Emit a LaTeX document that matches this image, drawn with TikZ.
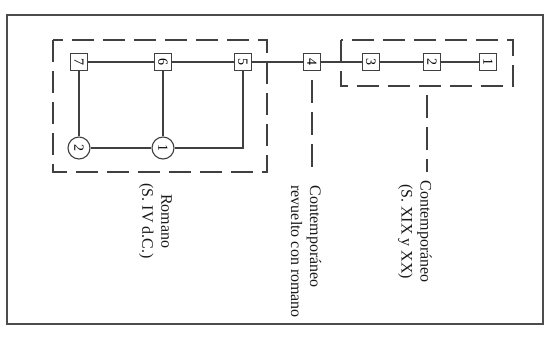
\documentclass[tikz,border=0pt]{standalone}
\usepackage{fontspec}
\setmainfont{Liberation Serif}
\usetikzlibrary{positioning}

\begin{document}
\begin{tikzpicture}[x=1pt, y=-1pt, line width=1.1pt, draw=black!75,
  unit/.style={draw=black!75, minimum size=17pt, inner sep=0pt,
    font=\fontsize{14}{14}\selectfont, rotate=-90},
  ring/.style={draw=black!75, circle, minimum size=22pt, inner sep=0pt,
    font=\fontsize{14}{14}\selectfont, rotate=-90},
  group/.style={draw=black!75, line width=1.3pt, dash pattern=on 22pt off 9pt},
  lead/.style={draw=black!75, line width=1.3pt, dash pattern=on 23pt off 9pt},
  era/.style={rotate=-90, anchor=west, inner sep=0pt,
    font=\fontsize{16}{19}\selectfont, text=black!90}]
  \useasboundingbox (0,0) rectangle (548,338);
  % frame
  \draw[black!70, line width=1.5pt] (7,15) rectangle (543,324);

  % dashed groups
  \draw[group] (53,40) rectangle (267,172);
  \draw[group] (341,40) rectangle (513,86);

  % stratigraphic units
  \node[unit] (u7) at (79,62) {7};
  \node[unit] (u6) at (163,62) {6};
  \node[unit] (u5) at (243,62) {5};
  \node[unit] (u4) at (312,62) {4};
  \node[unit] (u3) at (371,62) {3};
  \node[unit] (u2) at (432,62) {2};
  \node[unit] (u1) at (488,62) {1};
  \node[ring] (r2) at (79,148) {2};
  \node[ring] (r1) at (163,148) {1};

  % relations
  \draw (u7) -- (u6) -- (u5) -- (u4) -- (u3) -- (u2) -- (u1);
  \draw (u7) -- (r2);
  \draw (u6) -- (r1);
  \draw (r2) -- (r1);
  \draw (r1) -| (u5);

  % labels
  \node[era, align=center] (romano) at (155.5,183) {Romano\\(S. IV d.C.)};
  \node[era, align=left] (mixto) at (306,185) {Contemporáneo\\revuelto con romano};
  \node[era, align=center] (reciente) at (415,180) {Contemporáneo\\(S. XIX y XX)};

  % leaders
  \coordinate (m4) at (312,172);
  \draw[lead, shorten <=9pt] (u4) -- (m4);
  \coordinate (t2) at (427,95);
  \coordinate (m2) at (427,172);
  \draw[lead] (t2) -- (m2);
\end{tikzpicture}
\end{document}
